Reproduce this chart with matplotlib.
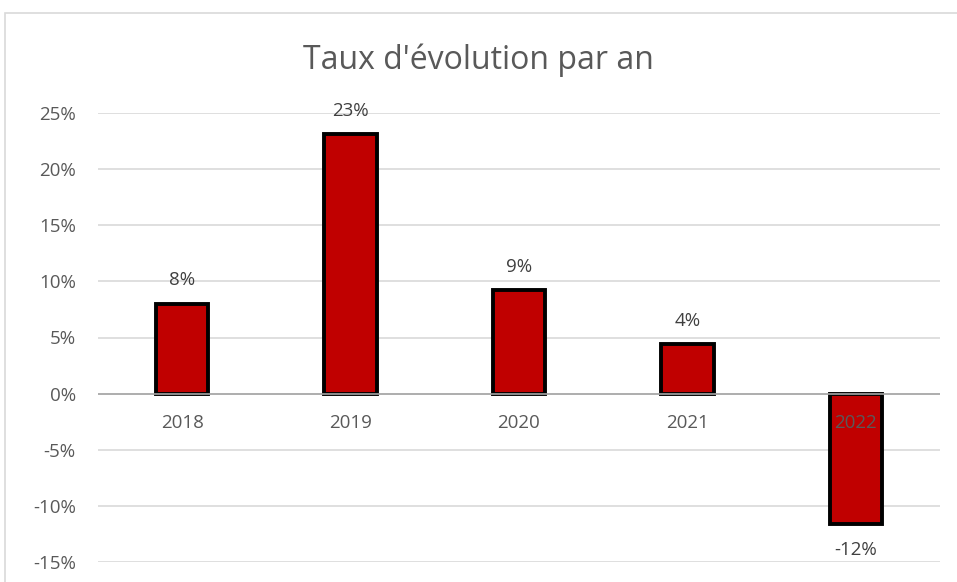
import matplotlib.pyplot as plt
from matplotlib.patches import Rectangle

years = ["2018", "2019", "2020", "2021", "2022"]
rates = [8.0, 23.1, 9.2, 4.4, -11.6]
labels = ["8%", "23%", "9%", "4%", "-12%"]
yticks = [-15, -10, -5, 0, 5, 10, 15, 20, 25]

plt.rcParams['font.family'] = ['Open Sans', 'DejaVu Sans']
grey = '#595959'

fig = plt.figure(figsize=(9.57, 5.82), dpi=100)
# chart border, Excel style
fig.patches.append(Rectangle((5 / 957, -0.1), 2, (582 - 13) / 582 + 0.1,
                             transform=fig.transFigure, fill=False,
                             edgecolor='#d9d9d9', linewidth=1.2))

ax = fig.add_axes([98 / 957, 1 - 562 / 582, 842 / 957, (562 - 113) / 582])
x = range(len(years))
ax.bar(x, rates, width=0.31, color='#c00000', edgecolor='black',
       linewidth=2.8, zorder=2)
ax.axhline(0, color='#a6a6a6', linewidth=1.2, zorder=3)

for i, (v, lab) in enumerate(zip(rates, labels)):
    off = 17 if v >= 0 else -19
    ax.annotate(lab, (i, v), xytext=(0, off), textcoords='offset points',
                ha='center', va='center', fontsize=13.5, color='#404040')
    ax.annotate(years[i], (i, 0), xytext=(0, -21.5), textcoords='offset points',
                ha='center', va='center', fontsize=13.5, color=grey, zorder=4)

ax.set_xlim(-0.5, len(years) - 0.5)
ax.set_ylim(-15, 25)
ax.set_yticks(yticks)
ax.set_yticklabels([f"{t}%" for t in yticks], fontsize=13.5, color=grey)
ax.set_xticks([])
ax.tick_params(axis='y', length=0, pad=16)
ax.grid(axis='y', color='#d9d9d9', linewidth=1.2, zorder=0)
ax.set_axisbelow(True)
for s in ax.spines.values():
    s.set_visible(False)

fig.text(0.5, 1 - 60 / 582, "Taux d'évolution par an", ha='center',
         va='center', fontsize=23, color=grey)

fig.savefig("out.png", dpi=100)
